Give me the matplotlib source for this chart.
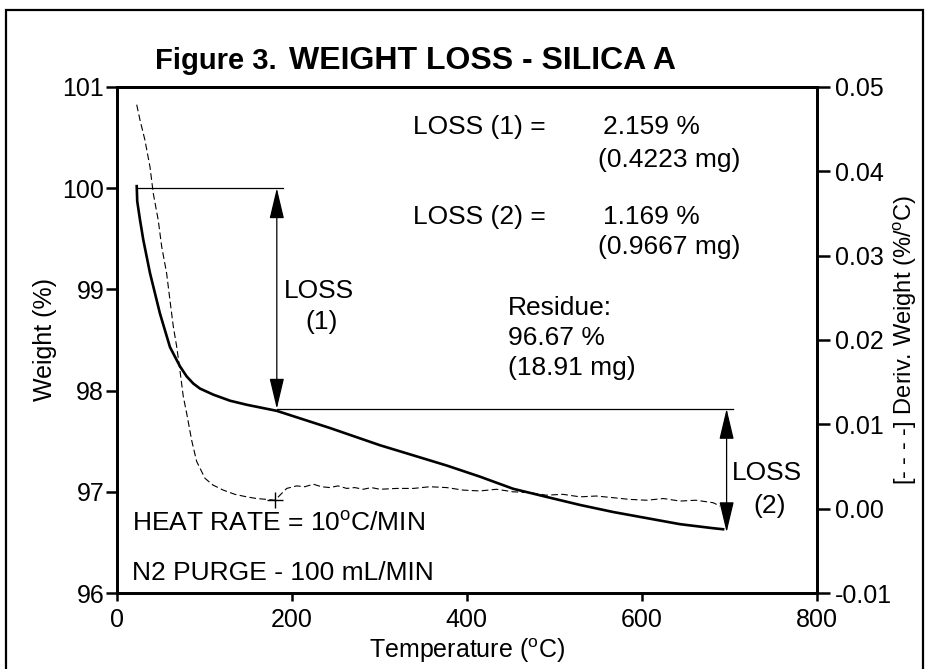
import matplotlib
matplotlib.use("Agg")
import matplotlib.pyplot as plt
from matplotlib.patches import Rectangle

plt.rcParams['font.family'] = ['Liberation Sans', 'DejaVu Sans']
plt.rcParams['mathtext.fontset'] = 'custom'
plt.rcParams['mathtext.rm'] = 'Liberation Sans'

# weight curve (solid, left axis)
temp_w = [22.9, 23.5, 26.6, 30.4, 38.1, 49.5, 60.9, 72.3, 80.0, 87.5, 95.2,
          110.4, 129.5, 148.6, 182.9, 243.8, 300.9, 339.0, 377.0, 415.0, 453.0,
          491.0, 529.5, 567.5, 605.7, 643.8, 681.8, 693.0]
weight = [100.02, 99.87, 99.69, 99.49, 99.16, 98.76, 98.43, 98.24, 98.14, 98.07,
          98.02, 97.96, 97.90, 97.86, 97.80, 97.63, 97.46, 97.36, 97.26, 97.15,
          97.03, 96.95, 96.87, 96.80, 96.74, 96.68, 96.64, 96.63]

# derivative curve (dashed, right axis)
temp_d = [22.9, 26.6, 32.3, 38.1, 41.8, 47.5, 51.4, 57.1, 60.9, 64.7, 68.6,
          72.3, 76.1, 80.0, 85.7, 91.4, 100.9, 110.0, 121.8, 135.0, 148.6,
          160.0, 171.4, 181.0, 186.6, 194.3, 205.7, 215.0, 224.7, 234.0,
          243.8, 253.0, 262.9, 272.0, 281.8, 291.0, 300.9, 320.0, 339.0,
          358.0, 377.0, 396.0, 415.0, 434.0, 453.0, 472.0, 491.0, 510.0,
          529.5, 548.0, 567.5, 586.0, 605.7, 625.0, 643.8, 662.0, 681.8, 689.5]
deriv = [0.0479, 0.0461, 0.0437, 0.0405, 0.0374, 0.0342, 0.0311, 0.0279, 0.0247,
         0.0216, 0.0192, 0.0164, 0.0133, 0.0113, 0.0081, 0.0056, 0.0036, 0.0028,
         0.0022, 0.0017, 0.0014, 0.0012, 0.0011, 0.0010, 0.0016, 0.0024, 0.0027,
         0.0026, 0.0029, 0.0026, 0.0025, 0.0027, 0.0024, 0.0025, 0.0023, 0.0025,
         0.0023, 0.0024, 0.0024, 0.0026, 0.0025, 0.0022, 0.0021, 0.0023, 0.0020,
         0.0019, 0.0016, 0.0017, 0.0014, 0.0015, 0.0013, 0.0011, 0.0010, 0.0012,
         0.0009, 0.0010, 0.0007, 0.0003]

# step annotations
loss1_x, loss1_top, loss1_bot = 183, 100.0, 97.82
loss2_x, loss2_top, loss2_bot = 697, 97.82, 96.60
top_line = (22.9, 190)
step_line = (183, 704)

x_ticks = [0, 200, 400, 600, 800]
w_ticks = [96, 97, 98, 99, 100, 101]
d_ticks = [-0.01, 0.00, 0.01, 0.02, 0.03, 0.04, 0.05]

# text blocks: (x, y, text)
left_texts = [
    (339, 100.60, 'LOSS (1) ='),
    (556, 100.60, '2.159 %'),
    (550, 100.28, '(0.4223 mg)'),
    (339, 99.72, 'LOSS (2) ='),
    (556, 99.72, '1.169 %'),
    (550, 99.42, '(0.9667 mg)'),
    (447, 98.82, 'Residue:'),
    (447, 98.52, '96.67 %'),
    (447, 98.22, '(18.91 mg)'),
    (17, 96.68, r'HEAT RATE = 10$\mathregular{^o}$C/MIN'),
    (17, 96.20, 'N2 PURGE - 100 mL/MIN'),
]
center_texts = [
    (231, 98.98, 'LOSS'),
    (234, 98.68, '(1)'),
    (743, 97.19, 'LOSS'),
    (746, 96.86, '(2)'),
]

fig = plt.figure(figsize=(9.26, 6.69), dpi=100)
ax = fig.add_axes([0.126, 0.1136, 0.756, 0.7564])
ax2 = ax.twinx()

fig.patches.append(Rectangle((0.006, -0.01), 0.991, 0.995, transform=fig.transFigure,
                             fill=False, edgecolor='black', linewidth=1.6))

ax.plot(temp_w, weight, color='black', linewidth=1.9, zorder=3)
ax2.plot(temp_d, deriv, color='black', linewidth=0.8, dashes=(6, 3))
ax2.plot([181], [0.0010], marker='+', color='black', markersize=11, markeredgewidth=1)

# reference lines and arrows
ax.plot(top_line, [loss1_top, loss1_top], color='black', linewidth=0.9)
ax.plot(step_line, [loss1_bot, loss1_bot], color='black', linewidth=0.9)
arrow_kw = dict(arrowstyle='<|-|>,head_length=1.6,head_width=0.38', color='black',
                linewidth=0.9, shrinkA=0, shrinkB=0, mutation_scale=12)
ax.annotate('', xy=(loss1_x, loss1_top), xytext=(loss1_x, loss1_bot), arrowprops=arrow_kw)
ax.annotate('', xy=(loss2_x, loss2_top), xytext=(loss2_x, loss2_bot), arrowprops=arrow_kw)

for x, y, s in left_texts:
    ax.text(x, y, s, ha='left', va='center', fontsize=19)
for x, y, s in center_texts:
    ax.text(x, y, s, ha='center', va='center', fontsize=19)

ax.set_xlim(0, 800)
ax.set_ylim(96, 101)
ax2.set_ylim(-0.01, 0.05)
ax.set_xticks(x_ticks)
ax.set_yticks(w_ticks)
ax2.set_yticks(d_ticks)
ax2.set_yticklabels([f'{v:.2f}' for v in d_ticks])

for a in (ax, ax2):
    for sp in a.spines.values():
        sp.set_linewidth(2)
ax.tick_params(axis='both', direction='out', width=1.8, labelsize=18)
ax.tick_params(axis='y', length=8, pad=1)
ax.tick_params(axis='x', length=6, pad=5)
ax2.tick_params(axis='y', direction='out', width=1.8, length=9, pad=4, labelsize=18)

ax.set_xlabel(r'Temperature ($\mathregular{^o}$C)', fontsize=18, labelpad=3)
ax.set_ylabel('Weight (%)', fontsize=18, labelpad=4)
ax2.set_ylabel(r'[- - - -] Deriv. Weight (%/$\mathregular{^o}$C)', fontsize=17, labelpad=0)

fig.text(0.167, 0.897, 'Figure 3.', fontsize=21, fontweight='bold', ha='left',
         va='baseline')
fig.text(0.312, 0.897, 'WEIGHT LOSS - SILICA A', fontsize=23, fontweight='bold', ha='left',
         va='baseline')

fig.savefig('out.png', dpi=100)
